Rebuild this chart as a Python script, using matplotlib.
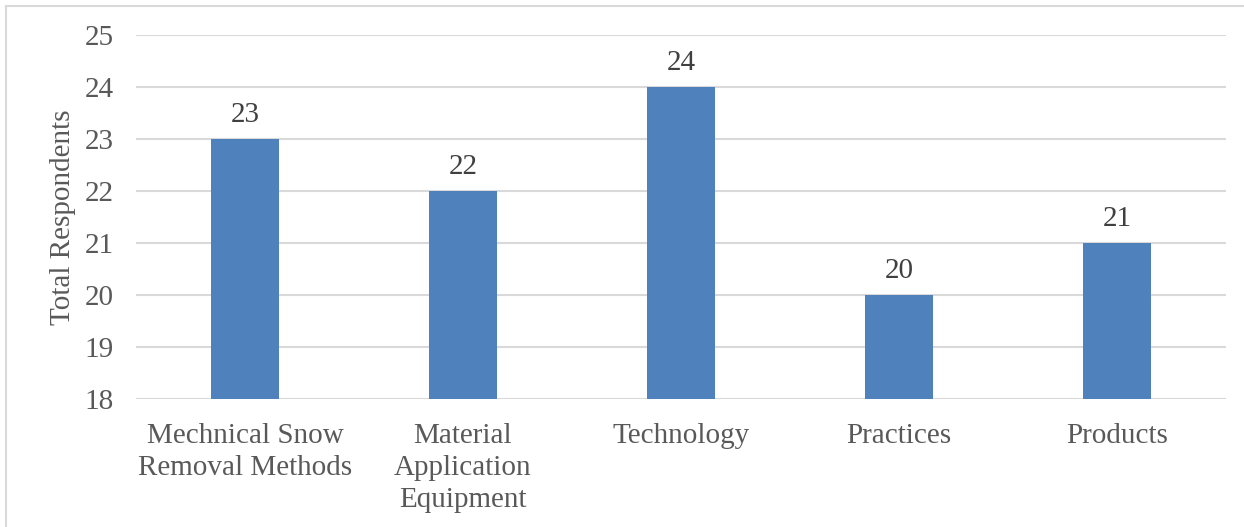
import matplotlib.pyplot as plt
from matplotlib.lines import Line2D

categories = ["Mechnical Snow\nRemoval Methods", "Material\nApplication\nEquipment",
              "Technology", "Practices", "Products"]
respondents = [23, 22, 24, 20, 21]

text_color = "#595959"
plt.rcParams['font.family'] = ['Liberation Serif', 'DejaVu Serif']

fig = plt.figure(figsize=(12.44, 5.27), dpi=100)
ax = fig.add_axes([0.1093, 0.2429, 0.8762, 0.6907])

x = range(len(categories))
bars = ax.bar(x, respondents, width=0.31, color="#4f81bd", zorder=3)
for b, v in zip(bars, respondents):
    ax.annotate(str(v), (b.get_x() + b.get_width() / 2, v), xytext=(0, 8),
                textcoords="offset points", ha="center", va="bottom",
                fontsize=21, color="#404040")

ax.set_xlim(-0.5, 4.5)
ax.set_ylim(18, 25)
ax.set_yticks(range(18, 26))
ax.set_xticks(list(x))
ax.set_xticklabels(categories, fontsize=21, color=text_color, linespacing=1.32)
ax.tick_params(axis='y', labelsize=21, labelcolor=text_color, length=0, pad=16)
ax.tick_params(axis='x', length=0, pad=17)
ax.grid(axis='y', color="#d9d9d9", linewidth=1.5, zorder=0)
for s in ax.spines.values():
    s.set_visible(False)
ax.set_ylabel("Total Respondents", fontsize=21, color=text_color, labelpad=6)

# thin frame around the chart area
fig.add_artist(Line2D([6 / 1244, 6 / 1244], [0, 1 - 6 / 527], color="#d9d9d9", lw=1.5))
fig.add_artist(Line2D([6 / 1244, 1], [1 - 6 / 527, 1 - 6 / 527], color="#d9d9d9", lw=1.5))

fig.savefig("out.png", dpi=100)
